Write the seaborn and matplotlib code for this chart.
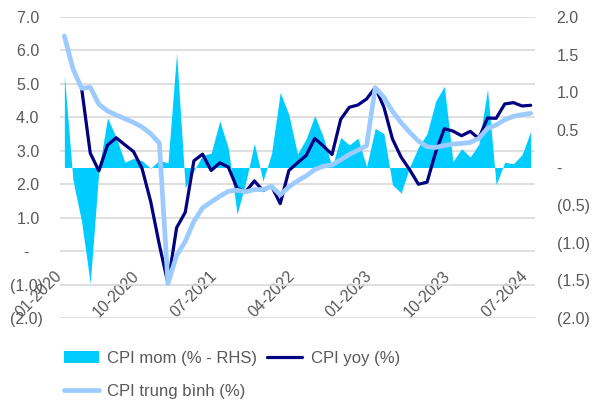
import numpy as np
import pandas as pd
import matplotlib
matplotlib.use("Agg")
import matplotlib.pyplot as plt
from matplotlib.patches import Patch
from matplotlib.ticker import FuncFormatter
import seaborn as sns

sns.set_theme(style="white")
plt.rcParams['font.family'] = ['Liberation Sans', 'DejaVu Sans']

# Monthly data 01-2020 .. 07-2024
months = pd.date_range("2020-01-01", "2024-07-01", freq="MS").strftime("%m-%Y").tolist()

cpi_yoy = [6.43, 5.45, 4.87, 2.93, 2.40, 3.17, 3.39, 3.18, 2.98, 2.47, 1.48, 0.19,
           -0.97, 0.70, 1.16, 2.70, 2.90, 2.41, 2.64, 2.51, 1.88, 1.77, 2.10, 1.81,
           1.94, 1.42, 2.41, 2.64, 2.86, 3.37, 3.14, 2.89, 3.94, 4.30, 4.37, 4.55,
           4.89, 4.31, 3.35, 2.81, 2.43, 2.00, 2.06, 2.96, 3.66, 3.59, 3.45, 3.58,
           3.37, 3.98, 3.97, 4.40, 4.44, 4.34, 4.36]

cpi_avg = [6.43, 5.45, 4.87, 4.90, 4.39, 4.19, 4.07, 3.96, 3.85, 3.71, 3.51, 3.23,
           -0.97, -0.13, 0.29, 0.89, 1.29, 1.47, 1.64, 1.79, 1.82, 1.77, 1.84, 1.84,
           1.94, 1.68, 1.92, 2.10, 2.25, 2.44, 2.54, 2.58, 2.73, 2.89, 3.02, 3.15,
           4.89, 4.60, 4.18, 3.84, 3.55, 3.29, 3.12, 3.10, 3.16, 3.20, 3.22, 3.25,
           3.37, 3.67, 3.77, 3.93, 4.03, 4.08, 4.12]

cpi_mom = [1.23, -0.17, -0.72, -1.54, -0.03, 0.66, 0.40, 0.07, 0.12, 0.09, -0.01, 0.10,
           0.06, 1.52, -0.27, -0.04, 0.16, 0.19, 0.62, 0.25, -0.62, -0.20, 0.32, -0.18,
           0.19, 1.00, 0.70, 0.18, 0.38, 0.69, 0.40, 0.005, 0.40, 0.30, 0.39, 0.01,
           0.52, 0.45, -0.23, -0.34, 0.01, 0.27, 0.45, 0.88, 1.08, 0.08, 0.25, 0.14,
           0.31, 1.04, -0.23, 0.07, 0.05, 0.17, 0.48]

tick_idx = [0, 9, 18, 27, 36, 45, 54]

df = pd.DataFrame({'t': np.arange(len(months)), 'yoy': cpi_yoy, 'avg': cpi_avg, 'mom': cpi_mom})

c_mom = '#00CCFF'
c_yoy = '#000080'
c_avg = '#9DCBFF'
grey = '#595959'

fig = plt.figure(figsize=(5.92, 4.05), dpi=100)
ax = fig.add_axes([0.1014, 0.2148, 0.8023, 0.7432])   # left axis + gridlines
ax2 = ax.twinx()                                        # right axis (mom area)
ax3 = ax.twinx()                                        # lines on left scale
ax2.set_zorder(ax.get_zorder() + 1)
ax3.set_zorder(ax.get_zorder() + 2)

# area on the right axis
ax2.fill_between(df['t'], 0, df['mom'], color=c_mom, linewidth=0)

# lines
sns.lineplot(data=df, x='t', y='yoy', ax=ax3, color=c_yoy, linewidth=2.3, label='CPI yoy (%)')
sns.lineplot(data=df, x='t', y='avg', ax=ax3, color=c_avg, linewidth=3.4,
             solid_capstyle='round', label='CPI trung bình (%)')
if ax3.get_legend() is not None:
    ax3.get_legend().remove()

xlim = (-0.5, len(months) - 0.5)
for a in (ax, ax2, ax3):
    a.set_xlim(*xlim)
    a.set_xlabel('')
    a.set_ylabel('')
    for s in a.spines.values():
        s.set_visible(False)

ax.set_ylim(-2, 7)
ax3.set_ylim(-2, 7)
ax2.set_ylim(-2, 2)
ax3.yaxis.set_visible(False)


def left_fmt(v, pos):
    if abs(v) < 1e-9:
        return '-   '
    if v < 0:
        return f'({abs(v):.1f})'
    return f'{v:.1f} '


def right_fmt(v, pos):
    if abs(v) < 1e-9:
        return '-'
    if v < 0:
        return f'({abs(v):.1f})'
    return f'{v:.1f}'


ax.set_yticks(np.arange(-2, 8, 1))
ax.yaxis.set_major_formatter(FuncFormatter(left_fmt))
ax2.set_yticks(np.arange(-2, 2.01, 0.5))
ax2.yaxis.set_major_formatter(FuncFormatter(right_fmt))
ax.grid(axis='y', color='#D9D9D9', linewidth=1.2)
ax.grid(axis='x', visible=False)

ax.tick_params(axis='y', length=0, pad=12, labelsize=11.5, labelcolor=grey)
ax2.tick_params(axis='y', length=0, pad=15.5, labelsize=11.5, labelcolor=grey)

ax.set_xticks(tick_idx)
ax.set_xticklabels([months[i] for i in tick_idx], rotation=45, ha='right')
ax.tick_params(axis='x', length=0, pad=-36, labelsize=11.5, labelcolor=grey)

# legend
h_lines, l_lines = ax3.get_legend_handles_labels()
h_mom = Patch(facecolor=c_mom, edgecolor='none')
handles = [h_mom, h_lines[1], h_lines[0]]
labels = ['CPI mom (% - RHS)', l_lines[1], l_lines[0]]
fig.legend(handles, labels, ncol=2, loc='upper left', bbox_to_anchor=(0.108, 0.133),
           frameon=False, fontsize=12, handlelength=2.1, handletextpad=0.5,
           columnspacing=0.6, labelspacing=1.05, borderpad=0, borderaxespad=0,
           labelcolor=grey)

fig.savefig('out.png', dpi=100)
